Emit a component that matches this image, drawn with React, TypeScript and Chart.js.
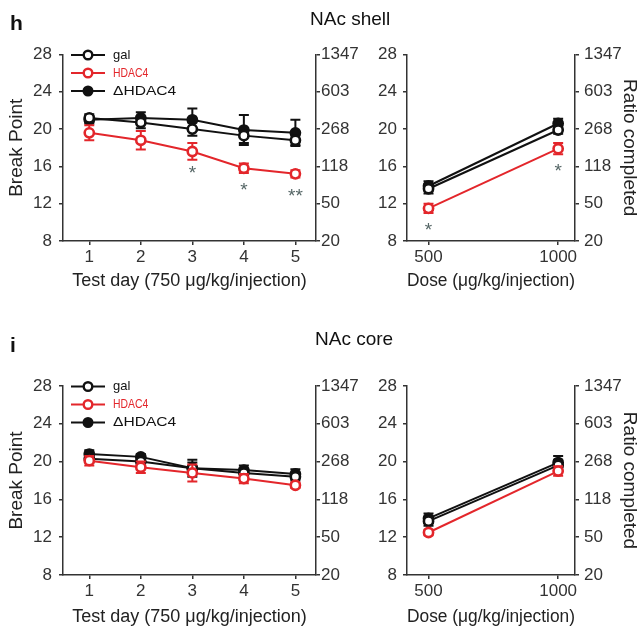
import React, { useEffect, useRef } from 'react';
import { Chart, registerables } from 'chart.js';
Chart.register(...registerables);

// ---------- data ----------
const days = [1, 2, 3, 4, 5];
const doses = [500, 1000];
const yTicks = [8, 12, 16, 20, 24, 28];
const ratioLabels = ['20', '50', '118', '268', '603', '1347'];
const seriesNames = ['gal', 'HDAC4', 'ΔHDAC4'];

// NAc shell, test days
const shellDayGal = [21.2, 20.7, 20.0, 19.3, 18.8];
const shellDayGalErr = [0.4, 0.6, 0.7, 0.8, 0.5];
const shellDayHdac = [19.6, 18.8, 17.6, 15.8, 15.2];
const shellDayHdacErr = [0.8, 1.0, 0.9, 0.5, 0.4];
const shellDayDelta = [21.0, 21.2, 21.0, 19.9, 19.6];
const shellDayDeltaErr = [0.4, 0.6, 1.2, 1.6, 1.4];
const shellDayStars = ['', '', '*', '*', '**'];

// NAc shell, dose
const shellDoseGal = [13.6, 19.9];
const shellDoseGalErr = [0.5, 0.4];
const shellDoseHdac = [11.5, 17.9];
const shellDoseHdacErr = [0.5, 0.6];
const shellDoseDelta = [13.9, 20.6];
const shellDoseDeltaErr = [0.5, 0.5];
const shellDoseStars = ['*', '*'];

// NAc core, test days
const coreDayGal = [20.3, 20.0, 19.3, 18.8, 18.4];
const coreDayGalErr = [0.4, 0.4, 0.9, 0.5, 0.4];
const coreDayHdac = [20.1, 19.4, 18.8, 18.2, 17.5];
const coreDayHdacErr = [0.5, 0.6, 0.9, 0.5, 0.3];
const coreDayDelta = [20.8, 20.5, 19.3, 19.1, 18.7];
const coreDayDeltaErr = [0.4, 0.3, 0.6, 0.5, 0.5];

// NAc core, dose
const coreDoseGal = [13.7, 19.6];
const coreDoseGalErr = [0.5, 0.6];
const coreDoseHdac = [12.5, 19.0];
const coreDoseHdacErr = [0.3, 0.5];
const coreDoseDelta = [14.0, 19.9];
const coreDoseDeltaErr = [0.5, 0.7];

// ---------- styles ----------
const FONT = '"Liberation Sans", Arial, Helvetica, sans-serif';
const RED = '#e3262b';
const BLACK = '#111';
const AXIS = '#333';
const seriesStyles = [
  { color: BLACK, fill: '#fff', order: 1, legendScale: 1 },
  { color: RED, fill: '#fff', order: 0, legendScale: 0.8 },
  { color: BLACK, fill: BLACK, order: 2, legendScale: 1.2 },
];

const errorBarPlugin = {
  id: 'errorBars',
  beforeDatasetDraw(chart: any, args: any) {
    const ds: any = chart.data.datasets[args.index];
    const errs: number[] = ds.errors;
    if (!errs) return;
    const ys = chart.scales.y;
    const ctx = chart.ctx;
    ctx.save();
    ctx.strokeStyle = ds.borderColor;
    ctx.lineWidth = 2;
    args.meta.data.forEach((pt: any, i: number) => {
      const v = ds.data[i].y;
      const e = errs[i];
      const yt = ys.getPixelForValue(v + e);
      const yb = ys.getPixelForValue(v - e);
      const x = pt.x;
      ctx.beginPath();
      ctx.moveTo(x, yt); ctx.lineTo(x, yb);
      ctx.moveTo(x - 5, yt); ctx.lineTo(x + 5, yt);
      ctx.moveTo(x - 5, yb); ctx.lineTo(x + 5, yb);
      ctx.stroke();
    });
    ctx.restore();
  },
};

const starPlugin = {
  id: 'stars',
  afterDatasetsDraw(chart: any, _args: any, opts: any) {
    if (!opts || !opts.marks) return;
    const meta = chart.getDatasetMeta(opts.datasetIndex);
    const ctx = chart.ctx;
    ctx.save();
    ctx.fillStyle = '#566';
    ctx.font = `19px ${FONT}`;
    ctx.textAlign = 'center';
    ctx.textBaseline = 'alphabetic';
    opts.marks.forEach((m: string, i: number) => {
      if (!m) return;
      const pt = meta.data[i];
      ctx.fillText(m, pt.x, pt.y + 28);
    });
    ctx.restore();
  },
};

const legendPlugin = {
  id: 'inlineLegend',
  afterDraw(chart: any, _args: any, opts: any) {
    if (!opts || !opts.show) return;
    const ctx = chart.ctx;
    const { left, top } = chart.chartArea;
    chart.data.datasets.forEach((ds: any, i: number) => {
      const st = seriesStyles[i];
      const y = top + 0.5 + i * 18;
      ctx.save();
      ctx.strokeStyle = st.color;
      ctx.lineWidth = 2;
      ctx.beginPath();
      ctx.moveTo(left + 8, y); ctx.lineTo(left + 42, y);
      ctx.stroke();
      ctx.beginPath();
      ctx.arc(left + 25, y, 4.3, 0, Math.PI * 2);
      ctx.fillStyle = st.fill;
      ctx.fill();
      ctx.lineWidth = 2.4;
      ctx.stroke();
      ctx.fillStyle = st.color;
      ctx.font = `13px ${FONT}`;
      ctx.textBaseline = 'middle';
      ctx.textAlign = 'left';
      ctx.translate(left + 50, y);
      ctx.scale(st.legendScale, 1);
      ctx.fillText(ds.label, 0, 0);
      ctx.restore();
    });
  },
};

type PanelCfg = {
  xs: number[];
  xMin: number;
  xMax: number;
  xTitle: string;
  values: number[][];
  errors: number[][];
  stars?: string[];
  padTop: number;
  xAxisH: number;
  xTitlePad: number;
  leftW: number;
  rightW: number;
  leftPad: number;
  rightPad: number;
  leftTitle: boolean;
  rightTitle: boolean;
  legend: boolean;
};

function buildChart(canvas: HTMLCanvasElement, cfg: PanelCfg) {
  const tickFont = { size: 17, family: FONT };
  const grid = { display: true, drawOnChartArea: false, drawTicks: true, tickLength: 4, color: AXIS, lineWidth: 1.5 };
  const border = { display: true, color: AXIS, width: 1.5 };
  const setYTicks = (s: any) => { s.ticks = yTicks.map((v) => ({ value: v })); };
  return new Chart(canvas, {
    type: 'line',
    data: {
      datasets: seriesNames.map((name, si) => ({
        label: name,
        data: cfg.xs.map((x, i) => ({ x, y: cfg.values[si][i] })),
        errors: cfg.errors[si],
        borderColor: seriesStyles[si].color,
        backgroundColor: seriesStyles[si].fill,
        pointBackgroundColor: seriesStyles[si].fill,
        pointBorderColor: seriesStyles[si].color,
        pointBorderWidth: 2.6,
        pointRadius: 4.6,
        borderWidth: 2,
        tension: 0,
        order: seriesStyles[si].order,
      })) as any,
    },
    options: {
      animation: false,
      responsive: false,
      maintainAspectRatio: false,
      layout: { padding: { top: cfg.padTop, left: 0, right: 0, bottom: 0 } },
      plugins: {
        legend: { display: false },
        tooltip: { enabled: false },
        stars: cfg.stars ? { datasetIndex: 1, marks: cfg.stars } : {},
        inlineLegend: { show: cfg.legend },
      } as any,
      scales: {
        x: {
          type: 'linear',
          min: cfg.xMin,
          max: cfg.xMax,
          afterBuildTicks: (s: any) => { s.ticks = cfg.xs.map((v) => ({ value: v })); },
          afterFit: (s: any) => { s.height = cfg.xAxisH; },
          ticks: { font: tickFont, color: AXIS, padding: 2, maxRotation: 0, callback: (v: any) => String(v) },
          grid,
          border,
          title: { display: true, text: cfg.xTitle, font: { size: 18, family: FONT }, color: '#222', padding: { top: 0, bottom: cfg.xTitlePad } },
        },
        y: {
          type: 'linear',
          position: 'left',
          min: 8,
          max: 28,
          afterBuildTicks: setYTicks,
          afterFit: (s: any) => { s.width = cfg.leftW; },
          ticks: { font: tickFont, color: AXIS, padding: cfg.leftPad },
          grid,
          border,
          title: { display: cfg.leftTitle, text: 'Break Point', font: { size: 19, family: FONT }, color: '#222', padding: { top: 5, bottom: 0 } },
        },
        y2: {
          type: 'linear',
          position: 'right',
          min: 8,
          max: 28,
          afterBuildTicks: setYTicks,
          afterFit: (s: any) => { s.width = cfg.rightW; },
          ticks: { font: tickFont, color: AXIS, padding: cfg.rightPad, callback: (v: any) => ratioLabels[yTicks.indexOf(v)] },
          grid,
          border,
          title: { display: cfg.rightTitle, text: 'Ratio completed', font: { size: 19, family: FONT }, color: '#222', padding: { top: 0, bottom: 0 } },
        },
      } as any,
    },
    plugins: [errorBarPlugin, starPlugin, legendPlugin],
  });
}

const dayTitle = 'Test day (750 μg/kg/injection)';
const doseTitle = 'Dose (μg/kg/injection)';

const panels: { left: number; top: number; w: number; h: number; cfg: PanelCfg }[] = [
  {
    left: 0, top: 0, w: 360, h: 300,
    cfg: {
      xs: days, xMin: 0.49, xMax: 5.4, xTitle: dayTitle,
      values: [shellDayGal, shellDayHdac, shellDayDelta],
      errors: [shellDayGalErr, shellDayHdacErr, shellDayDeltaErr],
      stars: shellDayStars,
      padTop: 54.5, xAxisH: 59, xTitlePad: 8, leftW: 63, rightW: 44, leftPad: 7, rightPad: 1,
      leftTitle: true, rightTitle: false, legend: true,
    },
  },
  {
    left: 360, top: 0, w: 281, h: 300,
    cfg: {
      xs: doses, xMin: 417, xMax: 1065, xTitle: doseTitle,
      values: [shellDoseGal, shellDoseHdac, shellDoseDelta],
      errors: [shellDoseGalErr, shellDoseHdacErr, shellDoseDeltaErr],
      stars: shellDoseStars,
      padTop: 54.5, xAxisH: 59, xTitlePad: 8, leftW: 47, rightW: 66, leftPad: 6, rightPad: 5,
      leftTitle: false, rightTitle: true, legend: false,
    },
  },
  {
    left: 0, top: 330, w: 360, h: 299,
    cfg: {
      xs: days, xMin: 0.49, xMax: 5.4, xTitle: dayTitle,
      values: [coreDayGal, coreDayHdac, coreDayDelta],
      errors: [coreDayGalErr, coreDayHdacErr, coreDayDeltaErr],
      padTop: 56, xAxisH: 54, xTitlePad: 1, leftW: 63, rightW: 44, leftPad: 7, rightPad: 1,
      leftTitle: true, rightTitle: false, legend: true,
    },
  },
  {
    left: 360, top: 330, w: 281, h: 299,
    cfg: {
      xs: doses, xMin: 417, xMax: 1065, xTitle: doseTitle,
      values: [coreDoseGal, coreDoseHdac, coreDoseDelta],
      errors: [coreDoseGalErr, coreDoseHdacErr, coreDoseDeltaErr],
      padTop: 56, xAxisH: 54, xTitlePad: 1, leftW: 47, rightW: 66, leftPad: 6, rightPad: 5,
      leftTitle: false, rightTitle: true, legend: false,
    },
  },
];

function Panel(props: { left: number; top: number; w: number; h: number; cfg: PanelCfg }) {
  const ref = useRef<HTMLCanvasElement | null>(null);
  useEffect(() => {
    if (!ref.current) return;
    const chart = buildChart(ref.current, props.cfg);
    return () => chart.destroy();
  }, []);
  return (
    <canvas
      ref={ref}
      width={props.w}
      height={props.h}
      style={{ position: 'absolute', left: props.left, top: props.top, width: props.w, height: props.h }}
    />
  );
}

const labelStyle: React.CSSProperties = {
  position: 'absolute',
  fontFamily: FONT,
  lineHeight: 1,
  color: '#111',
  whiteSpace: 'nowrap',
};

export default function App() {
  return (
    <div style={{ position: 'absolute', left: 0, top: 0, width: 641, height: 629, background: '#fff', overflow: 'hidden' }}>
      {panels.map((p, i) => (
        <Panel key={i} {...p} />
      ))}
      <div style={{ ...labelStyle, left: 10, top: 12, fontSize: 21, fontWeight: 'bold' }}>h</div>
      <div style={{ ...labelStyle, left: 310, top: 9, fontSize: 19 }}>NAc shell</div>
      <div style={{ ...labelStyle, left: 10, top: 334, fontSize: 21, fontWeight: 'bold' }}>i</div>
      <div style={{ ...labelStyle, left: 315, top: 329, fontSize: 19 }}>NAc core</div>
    </div>
  );
}
